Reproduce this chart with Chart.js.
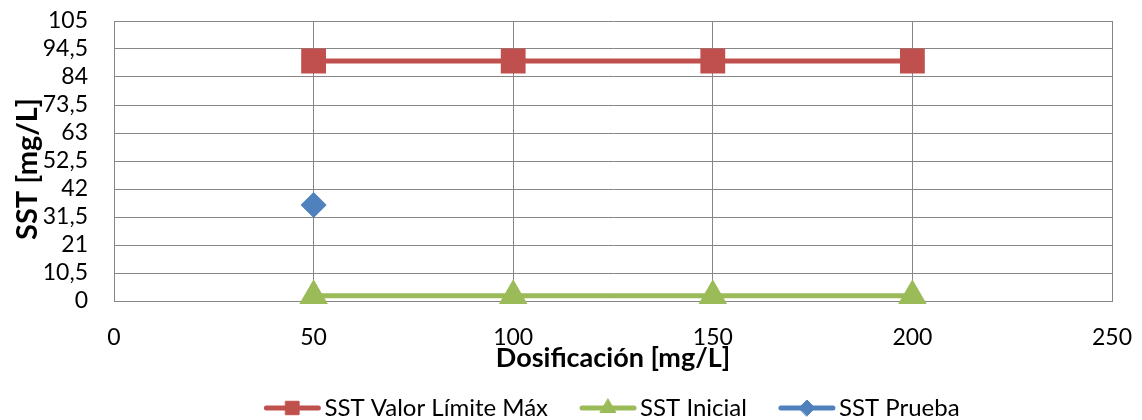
<!DOCTYPE html>
<html>
<head>
<meta charset="utf-8">
<script src="https://cdn.jsdelivr.net/npm/chart.js@4"></script>
<style>
  html, body { margin: 0; padding: 0; background: #fff; }
  #wrap { width: 1142px; height: 420px; position: relative; }
</style>
</head>
<body>
<div id="wrap"><canvas id="chart"></canvas></div>
<script>
// Dosificación [mg/L] en el eje X
const dosis = [50, 100, 150, 200];
// SST [mg/L] por serie
const sstLimite = [90, 90, 90, 90];
const sstInicial = [2, 2, 2, 2];
const dosisPrueba = [50];
const sstPrueba = [36];

// Marcas de los ejes
const yTicks = [0, 10.5, 21, 31.5, 42, 52.5, 63, 73.5, 84, 94.5, 105];
const yTickLabels = ['0', '10,5', '21', '31,5', '42', '52,5', '63', '73,5', '84', '94,5', '105'];
const xTicks = [0, 50, 100, 150, 200, 250];

const serieNombres = ['SST Valor Límite Máx', 'SST Inicial', 'SST Prueba'];
const colores = ['#C0504D', '#9BBB59', '#4F81BD'];
const tituloY = 'SST [mg/L]';
const tituloX = 'Dosificación [mg/L]';

const toPoints = (xs, ys) => xs.map((x, i) => ({ x: x, y: ys[i] }));

const FONT = 'Lato';
const GRID = '#868686';

// Sin márgenes extra alrededor del área de trazado
const sinRelleno = s => {
  s.paddingTop = 0;
  s.paddingBottom = 0;
  s.paddingLeft = 0;
  s.paddingRight = 0;
};

// Título del eje Y, girado, a la izquierda del área de trazado
const yTitlePlugin = {
  id: 'yTitle',
  afterDraw(chart) {
    const ctx = chart.ctx;
    ctx.save();
    ctx.translate(28, 169);
    ctx.rotate(-Math.PI / 2);
    ctx.font = 'bold 29px ' + FONT;
    ctx.fillStyle = '#000';
    ctx.textAlign = 'center';
    ctx.textBaseline = 'middle';
    ctx.fillText(tituloY, 0, 0);
    ctx.restore();
  }
};

// Leyenda debajo del eje X: línea con marcador y texto
const legendPlugin = {
  id: 'lineLegend',
  afterDraw(chart) {
    const ctx = chart.ctx;
    const area = chart.chartArea;
    const lineW = 56, gapText = 4, gapItem = 32;
    const y = 408;
    ctx.save();
    ctx.font = '24px ' + FONT;
    const widths = serieNombres.map(t => ctx.measureText(t).width);
    let total = 0;
    widths.forEach((w, i) => { total += lineW + gapText + w + (i < widths.length - 1 ? gapItem : 0); });
    let x = (area.left + area.right) / 2 - 1 - total / 2;
    chart.data.datasets.forEach((ds, i) => {
      ctx.strokeStyle = ds.borderColor;
      ctx.lineWidth = 5;
      ctx.lineCap = 'round';
      ctx.beginPath();
      ctx.moveTo(x + 2, y);
      ctx.lineTo(x + lineW - 2, y);
      ctx.stroke();
      const r = ds.pointStyle === 'rect' ? 9.5 : (ds.pointStyle === 'triangle' ? 9 : 8);
      ctx.fillStyle = ds.pointBackgroundColor;
      ctx.strokeStyle = ds.pointBorderColor;
      ctx.lineWidth = 1;
      Chart.helpers.drawPoint(ctx, { pointStyle: ds.pointStyle, radius: r, rotation: 0, borderWidth: 1 }, x + lineW / 2, y);
      ctx.fillStyle = '#000';
      ctx.textAlign = 'left';
      ctx.textBaseline = 'middle';
      ctx.fillText(serieNombres[i], x + lineW + gapText, y);
      x += lineW + gapText + widths[i] + gapItem;
    });
    ctx.restore();
  }
};

new Chart(document.getElementById('chart'), {
  type: 'line',
  data: {
    datasets: [
      {
        label: serieNombres[0],
        data: toPoints(dosis, sstLimite),
        borderColor: colores[0],
        backgroundColor: colores[0],
        pointBackgroundColor: colores[0],
        pointBorderColor: colores[0],
        borderWidth: 5,
        pointStyle: 'rect',
        pointRadius: 14,
        pointHoverRadius: 14
      },
      {
        label: serieNombres[1],
        data: toPoints(dosis, sstInicial),
        borderColor: colores[1],
        backgroundColor: colores[1],
        pointBackgroundColor: colores[1],
        pointBorderColor: colores[1],
        borderWidth: 5,
        pointStyle: 'triangle',
        pointRadius: 11.5,
        pointHoverRadius: 11.5
      },
      {
        label: serieNombres[2],
        data: toPoints(dosisPrueba, sstPrueba),
        borderColor: colores[2],
        backgroundColor: colores[2],
        pointBackgroundColor: colores[2],
        pointBorderColor: colores[2],
        borderWidth: 5,
        showLine: false,
        pointStyle: 'rectRot',
        pointRadius: 9.5,
        pointHoverRadius: 9.5
      }
    ]
  },
  options: {
    responsive: true,
    maintainAspectRatio: false,
    animation: false,
    clip: false,
    layout: { autoPadding: false, padding: { top: 21, right: 30, left: 0, bottom: 0 } },
    plugins: {
      legend: { display: false },
      tooltip: { enabled: false }
    },
    scales: {
      x: {
        type: 'linear',
        min: 0,
        max: 250,
        afterBuildTicks: s => { s.ticks = xTicks.map(v => ({ value: v })); },
        afterFit: s => { s.height = 119; sinRelleno(s); },
        grid: { color: GRID, lineWidth: 1, drawTicks: false },
        border: { color: GRID, width: 1 },
        ticks: {
          padding: 23,
          autoSkip: false,
          color: '#000',
          font: { family: FONT, size: 23 },
          maxRotation: 0,
          callback: v => String(v)
        },
        title: {
          display: true,
          text: tituloX,
          color: '#000',
          font: { family: FONT, size: 27, weight: 'bold' },
          padding: { top: 0, bottom: 46 }
        }
      },
      y: {
        type: 'linear',
        min: 0,
        max: 105,
        afterBuildTicks: s => { s.ticks = yTicks.map(v => ({ value: v })); },
        afterFit: s => { s.width = 114; sinRelleno(s); },
        grid: { color: GRID, lineWidth: 1, drawTicks: false },
        border: { color: GRID, width: 1 },
        ticks: {
          padding: 26,
          autoSkip: false,
          color: '#000',
          font: { family: FONT, size: 23 },
          callback: v => {
            const i = yTicks.indexOf(v);
            return i >= 0 ? yTickLabels[i] : '';
          }
        },
        title: { display: false }
      }
    }
  },
  plugins: [yTitlePlugin, legendPlugin]
});
</script>
</body>
</html>
